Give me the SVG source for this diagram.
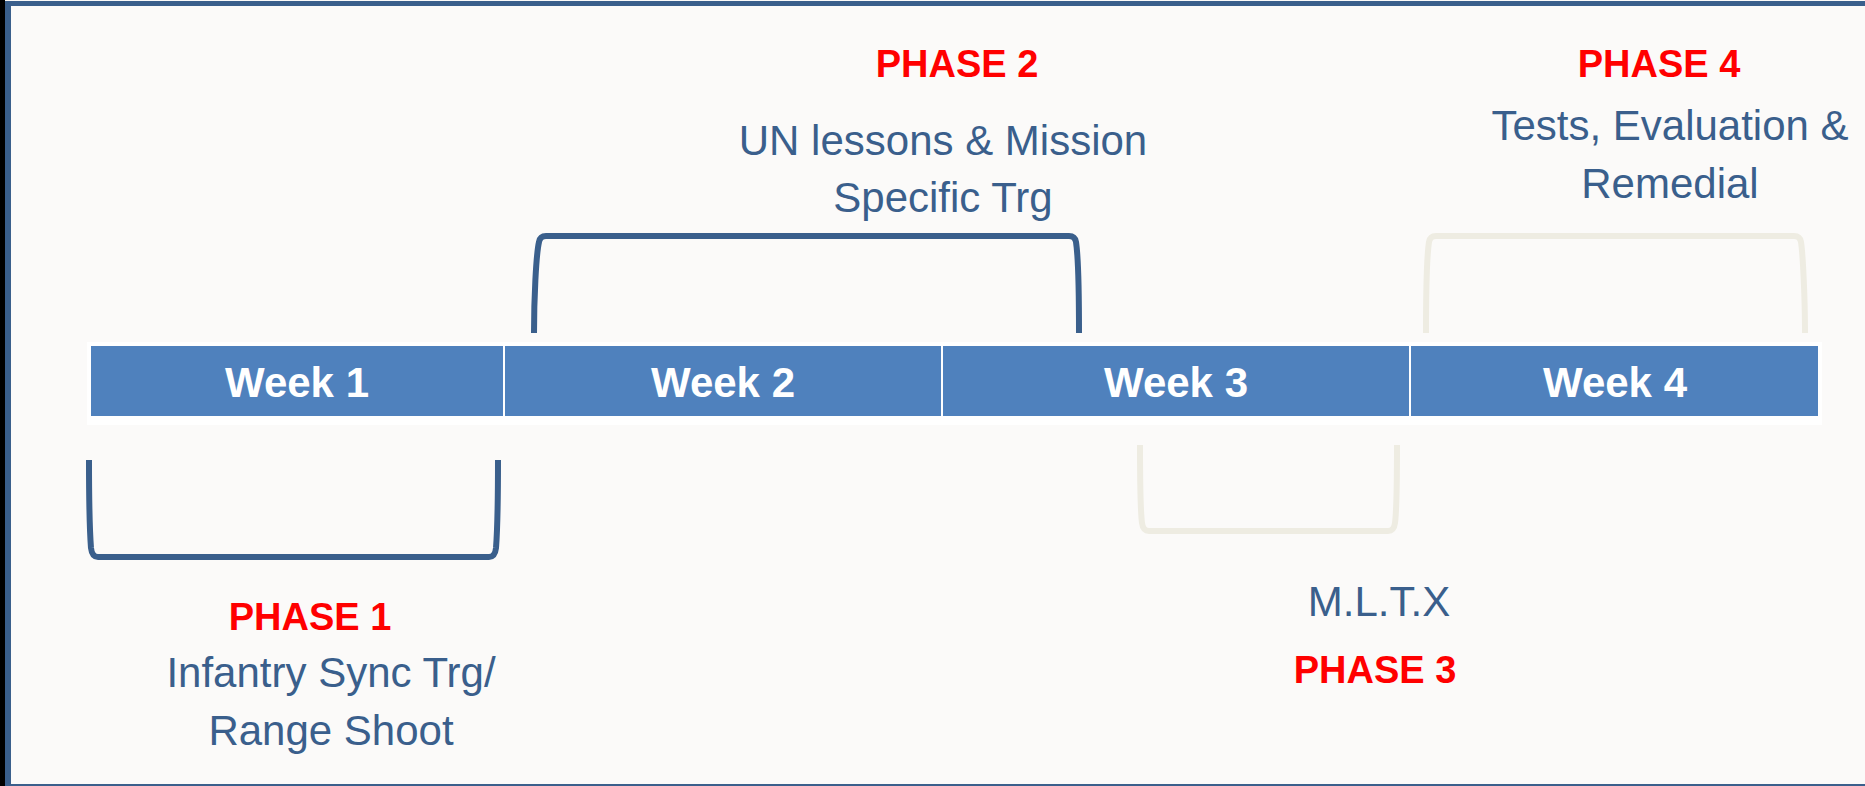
<svg xmlns="http://www.w3.org/2000/svg" width="1865" height="786" viewBox="0 0 1865 786">
<style>
.week{font-family:"Liberation Sans",Arial,sans-serif;font-weight:bold;font-size:42px;fill:#FFFFFF;text-anchor:middle}
.phase{font-family:"Liberation Sans",Arial,sans-serif;font-weight:bold;font-size:38px;fill:#FF0000;text-anchor:middle}
.desc{font-family:"Liberation Sans",Arial,sans-serif;font-size:42px;fill:#3A5F8C;text-anchor:middle}
.cell{fill:#4F81BD;stroke:#FFFFFF;stroke-width:2}
.br-dark{fill:none;stroke:#3A5F8C;stroke-width:6;stroke-linecap:butt;stroke-linejoin:round}
.br-light{fill:none;stroke:#EEECE2;stroke-width:6;stroke-linecap:butt;stroke-linejoin:round}
</style>
<rect x="0" y="0" width="1865" height="786" fill="#FBFAF9"/>
<rect x="0" y="0" width="5" height="786" fill="#000000"/>
<rect x="5" y="1" width="6" height="785" fill="#3A5F8C"/>
<rect x="5" y="1" width="1860" height="5" fill="#3A5F8C"/>
<rect x="5" y="784" width="1860" height="2" fill="#3A5F8C"/>

<g id="timeline">
<rect x="87" y="342" width="1735" height="83" fill="#FFFFFF"/>
<g id="week1"><rect class="cell" x="90" y="345" width="414" height="72"/><text class="week" x="297" y="397">Week 1</text></g>
<g id="week2"><rect class="cell" x="504" y="345" width="438" height="72"/><text class="week" x="723" y="397">Week 2</text></g>
<g id="week3"><rect class="cell" x="942" y="345" width="468" height="72"/><text class="week" x="1176" y="397">Week 3</text></g>
<g id="week4"><rect class="cell" x="1410" y="345" width="409" height="72"/><text class="week" x="1615" y="397">Week 4</text></g>
</g>

<g id="connectors">
<path class="br-dark" d="M534 333 C534 300 536 255 539 242 Q540 236 546 236 L1069 236 Q1075 236 1076 242 C1078 255 1079 300 1079 333"/>
<path class="br-light" d="M1426 333 C1426 300 1427 255 1429 242 Q1430 236 1436 236 L1794 236 Q1800 236 1801 242 C1803 255 1805 300 1805 333"/>
<path class="br-dark" d="M89 460 C89 500 90 535 91 548 Q92 557 98 557 L489 557 Q495 557 496 548 C497 535 498 500 498 460"/>
<path class="br-light" d="M1140 445 C1140 480 1141 515 1142 523 Q1143 531 1149 531 L1388 531 Q1394 531 1395 523 C1396 515 1397 480 1397 445"/>
</g>

<g id="phase1">
<text class="phase" x="310" y="630">PHASE 1</text>
<text class="desc" x="331" y="687">Infantry Sync Trg/</text>
<text class="desc" x="331" y="745">Range Shoot</text>
</g>
<g id="phase2">
<text class="phase" x="957" y="77">PHASE 2</text>
<text class="desc" x="943" y="155">UN lessons &amp; Mission</text>
<text class="desc" x="943" y="212">Specific Trg</text>
</g>
<g id="phase3">
<text class="desc" x="1379" y="616">M.L.T.X</text>
<text class="phase" x="1375" y="683">PHASE 3</text>
</g>
<g id="phase4">
<text class="phase" x="1659" y="77">PHASE 4</text>
<text class="desc" x="1670" y="140">Tests, Evaluation &amp;</text>
<text class="desc" x="1670" y="198">Remedial</text>
</g>
</svg>
